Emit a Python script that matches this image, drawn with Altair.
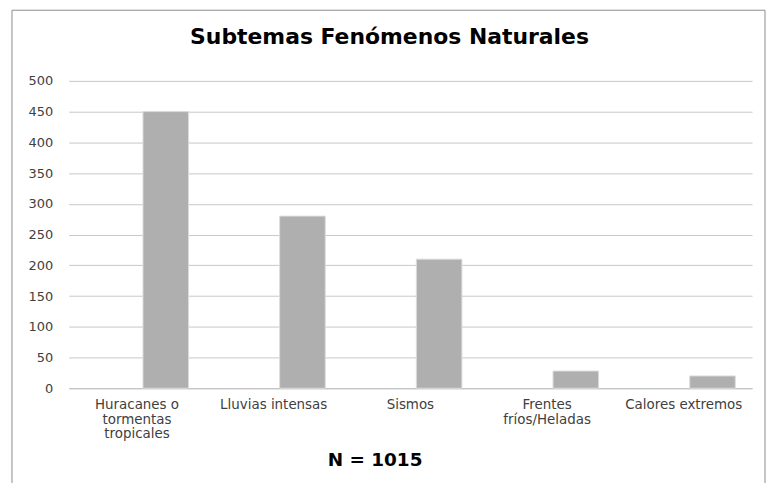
import altair as alt
import pandas as pd

categories = ["Huracanes o tormentas tropicales", "Lluvias intensas", "Sismos",
              "Frentes fríos/Heladas", "Calores extremos"]
values = [450, 280, 210, 28, 20]
series_name = "Subtemas"
y_ticks = [0, 50, 100, 150, 200, 250, 300, 350, 400, 450, 500]
title_text = "Subtemas Fenómenos Naturales"
footer_text = "N = 1015"

df = pd.DataFrame({"categoria": categories, "valor": values, "serie": series_name})

label_expr = (
    "datum.value == 'Huracanes o tormentas tropicales' ? ['Huracanes o', 'tormentas', 'tropicales'] : "
    "datum.value == 'Frentes fríos/Heladas' ? ['Frentes', 'fríos/Heladas'] : datum.label"
)

FONT = "DejaVu Sans"

bars = alt.Chart(df).mark_bar(
    color="#afafaf", stroke="#dcdcdc", strokeWidth=1
).encode(
    x=alt.X("categoria:N", sort=categories,
            scale=alt.Scale(paddingInner=0, paddingOuter=0),
            axis=alt.Axis(title=None, labelAngle=0, ticks=False, domain=True,
                          domainColor="#bfbfbf", labelExpr=label_expr,
                          labelFont=FONT, labelFontSize=13.5, labelColor="#404040",
                          labelBaseline="top", labelLineHeight=15, labelPadding=9,
                          grid=False)),
    xOffset=alt.XOffset("serie:N", scale=alt.Scale(domain=["", series_name],
                                                    paddingInner=0.2076, paddingOuter=0.292)),
    y=alt.Y("valor:Q", scale=alt.Scale(domain=[0, 500], nice=False),
            axis=alt.Axis(title=None, values=y_ticks, ticks=False, domain=False,
                          gridColor="#c8c8c8", labelFont=FONT, labelFontSize=13,
                          labelColor="#404040", labelPadding=16)),
)

frame = alt.Chart(pd.DataFrame({"f": [0]})).mark_rect(
    fillOpacity=0, stroke="#8c8c8c", strokeWidth=1
).encode(
    x=alt.value(-57), x2=alt.value(700), y=alt.value(-71), y2=alt.value(600)
)

title = alt.Chart(pd.DataFrame({"t": [title_text]})).mark_text(
    font=FONT, fontSize=22, fontWeight="bold", color="#000000",
    align="center", baseline="alphabetic"
).encode(text="t:N", x=alt.value(322.5), y=alt.value(-37))

footer = alt.Chart(pd.DataFrame({"t": [footer_text]})).mark_text(
    font=FONT, fontSize=18.5, fontWeight="bold", color="#000000",
    align="center", baseline="alphabetic"
).encode(text="t:N", x=alt.value(308), y=alt.value(387))

chart = alt.layer(frame, bars, title, footer).properties(
    width=687, height=309,
    autosize=alt.AutoSizeParams(type="none"),
    padding={"left": 61, "top": 72, "right": 14, "bottom": 94},
    background="white",
).configure_view(strokeWidth=0)

chart.save("out.html", embed_options={"renderer": "svg", "actions": False})
